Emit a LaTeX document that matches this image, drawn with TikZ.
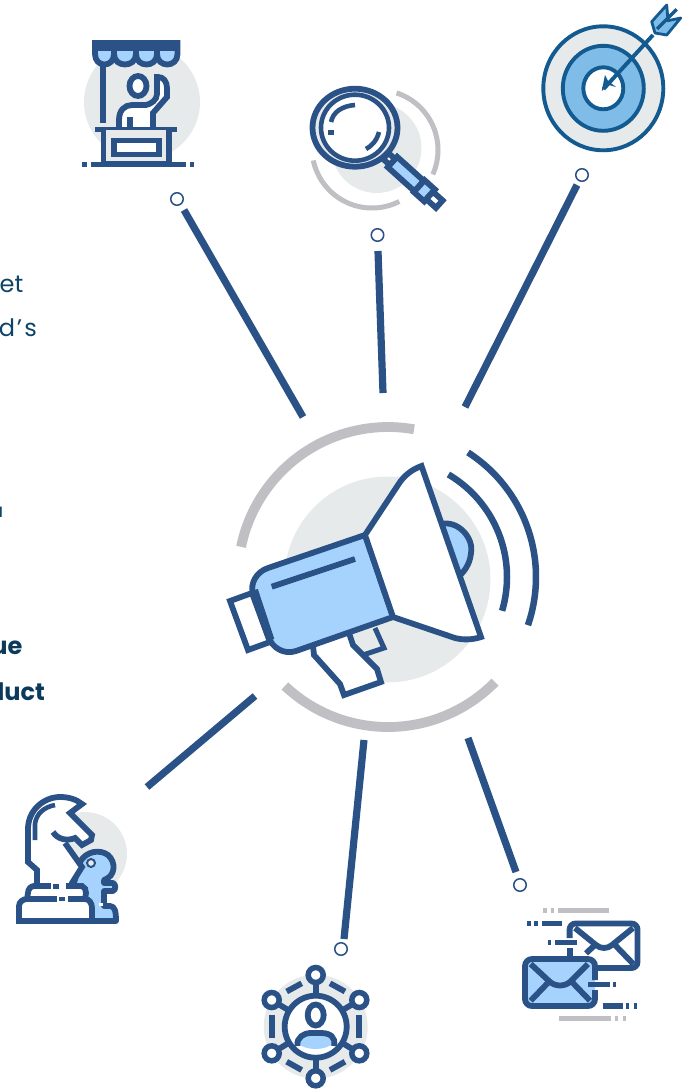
\documentclass[tikz,border=0pt]{standalone}
\usepackage{fontspec}
\setmainfont{Poppins}
\definecolor{navy}{HTML}{2A5286}
\definecolor{teal2}{HTML}{125A8F}
\definecolor{sky}{HTML}{A6D3FD}
\definecolor{sky2}{HTML}{7FBDE8}
\definecolor{mist}{HTML}{E7EAEB}
\definecolor{silver}{HTML}{BFBFC4}
\definecolor{ink}{HTML}{0F4468}
\definecolor{inkb}{HTML}{0B3A5C}
\tikzset{
  ln/.style={draw=navy,line width=5.8pt,line join=miter,miter limit=3},
  thin ln/.style={draw=navy,line width=4.6pt,line join=round},
  conn/.style={draw=navy,line width=7.2pt},
  grayarc/.style={draw=silver,line width=9.8pt},
  grayarcs/.style={draw=silver,line width=5pt},
  graydash/.style={draw=silver,line width=5pt},
  dot/.style={circle,draw=navy,fill=white,line width=1.5pt,minimum size=12.5pt,inner sep=0pt},
  tgt/.style={draw=teal2,line width=3.9pt,line join=round},
  body text/.style={font=\fontsize{24}{28}\selectfont,text=ink,anchor=base east,inner sep=0pt},
  bold text/.style={font=\fontsize{24}{28}\selectfont\bfseries,text=inkb,anchor=base east,inner sep=0pt},
}
\newcommand{\ringarc}[6]{\draw[#1] plot[domain=#5:#6,samples=70,variable=\t] ({#2+#4*cos(\t)},{#3-#4*sin(\t)});}
\begin{document}
\begin{tikzpicture}[x=1pt,y=-1pt]
\useasboundingbox (0,0) rectangle (696,1090);
% ---- clipped text
\node[body text] (t1) at (23.5,292) {et};
\node[body text] (t2) at (37,336) {l\kern2pt d\kern2pt’\kern2pt s};
\node[body text,font=\fontsize{19}{22}\selectfont] (t3) at (3.5,517) {u};
\node[bold text] (t4) at (22.5,654) {ue};
\node[bold text] (t5) at (45,700) {luct};
% ---- connectors
\node[dot] (d1) at (177,199) {};
\node[dot] (d2) at (377.5,235) {};
\node[dot] (d3) at (582,175) {};
\node[dot] (d5) at (341,949) {};
\node[dot] (d6) at (520,885) {};
\coordinate (a1) at (303,417); \coordinate (b1) at (184,210);
\coordinate (a2) at (383,393); \coordinate (b2) at (378,251);
\coordinate (a3) at (465,407); \coordinate (b3) at (577,185);
\coordinate (a4) at (255,696); \coordinate (b4) at (147,787);
\coordinate (a5) at (364,740); \coordinate (b5) at (344,939);
\coordinate (a6) at (468,738); \coordinate (b6) at (516,872);
\foreach \i in {1,...,6}{\draw[conn] (a\i) -- (b\i);}
% ---- megaphone
\fill[mist] (387.5,579.5) circle (103);
\ringarc{grayarc}{388}{577}{150}{80}{168.4}
\ringarc{grayarc}{388}{577}{150}{226.6}{315.5}
\ringarc{draw=navy,line width=6.5pt}{388}{577}{148}{-19}{57.3}
\ringarc{draw=navy,line width=6.5pt}{388}{577}{119}{-16.5}{59.5}
% dome
\draw[ln,fill=sky] (441,524) .. controls (458,520) and (474,538) .. (471,553) .. controls (470,565) and (463,573) .. (458,577) -- cycle;
% trigger
\draw[draw=navy,line width=5pt,line join=miter] (352,645) -- (363,655) -- (384,648) -- (375,628);
% handle
\draw[ln,fill=white] (313,646) -- (314,655) -- (340,684) -- (344,695) -- (381,682) -- (377,669) -- (353,645) -- (349,633);
% rear cap
\draw[ln,fill=white] (230,601) -- (252,593) -- (270,642) -- (248,650) -- cycle;
% body
\draw[ln,fill=sky] (365,535) -- (268,568) .. controls (256,572) and (250,584) .. (253,593) -- (268,636) .. controls (272,648) and (284,655) .. (296,651) -- (393,617) -- cycle;
\draw[draw=navy,line width=7pt] (254.5,590) -- (271,640);
\draw[ln] (271.7,586.7) -- (355,559);
% bell
\draw[ln,fill=white] (365,535) -- (398,485) .. controls (404,475) and (413,469) .. (421.5,466) -- (481,637) .. controls (472,640) and (463,640) .. (455,638) -- (393,617) -- cycle;
% ---- market stall
\fill[mist] (142,102) circle (58);
\draw[ln] (103,62) -- (103,123);
\draw[ln,fill=sky] (95,43) -- (177.5,43) -- (177.5,54) .. controls (177.5,68) and (157,68) .. (157,54) .. controls (157,68) and (136,68) .. (136,54) .. controls (136,68) and (114,68) .. (114,54) .. controls (114,68) and (95,68) .. (95,54) -- cycle;
\fill[navy] (92.5,40.5) rectangle (180,50.5);
\foreach \x in {114,136,157}{\draw[ln] (\x,50) -- (\x,55);}
\draw[ln,fill=white] (138,86) ellipse (8.5 and 10);
\draw[ln,fill=white,line cap=butt] (119,128) -- (119,120) .. controls (119,110) and (125,105) .. (132,105) -- (146,105) .. controls (151,104) and (157,100) .. (157,94) -- (157,77) -- (158,77) .. controls (163,77) and (167,81) .. (167,88) -- (167,97) -- (153,113) -- (153,128);
\draw[ln] (130,117) -- (130,128);
\draw[ln] (95,129.5) -- (177,129.5);
\draw[ln,fill=mist] (103.5,130) -- (103.5,164) -- (169,164) -- (169,130);
\draw[ln,fill=white] (114,140.5) rectangle (159,154.5);
\draw[ln] (90.7,164.5) -- (185.7,164.5);
\draw[ln] (82.3,164.5) -- (86.7,164.5);
\draw[ln] (190,164.5) -- (194.3,164.5);
% ---- magnifier
\fill[mist] (376.5,148) circle (45);
\ringarc{grayarcs}{378}{150}{60}{-24}{72}
\ringarc{grayarcs}{372}{148}{60}{192}{297}
\begin{scope}[shift={(388,158)},rotate=-42]
  \draw[ln,fill=white] (-3,-4) rectangle (6,4);
  \draw[ln,fill=sky] (6,-7) rectangle (42,7);
  \draw[ln,fill=sky] (42,-8) rectangle (56,8);
  \draw[ln,fill=white] (56,-5) rectangle (69,5);
\end{scope}
\draw[ln,fill=mist] (355,127.7) ellipse (42.5 and 39);
\draw[thin ln,fill=white] (355,127.7) ellipse (34 and 33);
\draw[thin ln] (331,122) .. controls (333,112) and (342,106) .. (355,105);
\draw[ln] (330.7,129.5) -- (330.7,134.5);
\draw[thin ln] (366,149) .. controls (372,146) and (377,140) .. (379,132);
% ---- target
\draw[tgt,fill=mist] (603.3,88.3) ellipse (60 and 62);
\draw[tgt,fill=sky2] (603.3,88.3) ellipse (40.5 and 42.5);
\draw[tgt,fill=white] (603.3,88.3) ellipse (20 and 21);
\draw[tgt] (603.5,89) -- (653,35);
\fill[teal2] (601.7,91) -- (605,75) -- (608,81) -- (616,87) -- (609,85) -- cycle;
\draw[draw=teal2,line width=2.8pt,line join=round,fill=sky2] (666.7,5) -- (651.7,21.7) -- (655,33) -- (666.7,35) -- (680.7,18) -- (668,20.7) -- cycle;
\draw[draw=teal2,line width=3.2pt] (676.7,9.3) -- (657,29);
% ---- chess
\fill[mist] (85,854) circle (42);
\draw[ln,line join=round,fill=sky] (80,862) .. controls (86,851) and (100,849) .. (108,855) .. controls (116,862) and (116,876) .. (104,880) -- (104,883) -- (113,883) .. controls (116,884) and (116,890) .. (113,891) -- (104,891) -- (104,906) -- (110,906) .. controls (115,906) and (116,912) .. (116,921) -- (85,921) -- (72,890) -- cycle;
\fill[white] (99,903) rectangle (103,906);
\draw[draw=navy,line width=2pt,fill=mist] (91,863) circle (4);
\fill[white] (37,888) -- (37,870) -- (28,862) -- (28,829) .. controls (28,810) and (44,797) .. (60,797) .. controls (68,797) and (76,799) .. (82,804) -- (70,813) -- (92,835) -- (91,840) -- (82,845) -- (75,838) -- (65,843) -- (82,867) -- (72,883) -- (72,888) -- cycle;
\draw[ln] (37,888) -- (37,870) -- (28,862) -- (28,829) .. controls (28,810) and (44,797) .. (60,797) .. controls (68,797) and (76,799) .. (82,804) -- (70,813) -- (92,835) -- (91,840) -- (82,845) -- (75,838) .. controls (68,841) and (58,840) .. (53,832);
\draw[ln] (65,843) -- (82,867) -- (72,883) -- (72,888);
\draw[thin ln] (35,840) -- (35,824) .. controls (36,814) and (44,807) .. (55,805);
\draw[ln,fill=white] (19,921) -- (19,906) .. controls (19,902) and (23,899) .. (27,899) -- (28,893) .. controls (28,889) and (31,886) .. (34,886) -- (82,886) .. controls (85,887) and (86,890) .. (86,893) -- (85,899) .. controls (89,899) and (92,903) .. (92,908) -- (92,921) -- cycle;
\draw[draw=white,line width=7pt] (51,886) -- (66,886);
\draw[ln] (56,884) -- (56,888.5);
\draw[draw=white,line width=7pt] (58,899) -- (67,899);
\draw[ln] (28,899) -- (57,899);
\draw[ln] (62.3,897) -- (62.3,901);
\draw[ln] (68,899) -- (84,899);
% ---- network
\fill[mist] (315.7,1026.7) circle (52);
\draw[ln] (315.7,975) -- (315.7,1078);
\draw[ln] (271.7,1000) -- (359.3,1053.3);
\draw[ln] (359.3,1000) -- (271.7,1053.3);
\node[circle,draw=navy,fill=white,line width=5.8pt,minimum size=62pt,inner sep=0pt] (hub) at (315.7,1026.7) {};
\foreach \n/\p in {s1/{315.7,975},s2/{315.7,1078.3},s3/{271.7,1000},s4/{359.3,1000},s5/{271.7,1053.3},s6/{359.3,1053.3}}{
  \node[circle,draw=navy,fill=white,line width=5.5pt,minimum size=15pt,inner sep=0pt] (\n) at (\p) {};
}
\draw[ln] (286.7,991.5) -- (301.7,983.3);
\draw[ln] (330,983.3) -- (345,991.5);
\draw[ln] (272.3,1015) -- (272.3,1038.3);
\draw[ln] (359,1015) -- (359,1038.3);
\draw[ln] (286.7,1061.7) -- (301.7,1070);
\draw[ln] (330,1070) -- (345,1061.7);
\draw[ln] (315.7,1015) ellipse (8 and 10.5);
\fill[sky] (297.5,1043) .. controls (297,1036) and (305,1033) .. (310,1033) -- (321,1033) .. controls (330,1033) and (335,1038) .. (334,1043) .. controls (325,1051) and (306,1051) .. (297.5,1043) -- cycle;
\draw[ln] (297.5,1046) .. controls (296,1037) and (305,1033) .. (310,1033) -- (321,1033) .. controls (330,1033) and (336,1037) .. (334,1046);
% ---- envelopes
\fill[white,rounded corners=6pt] (571,923.5) rectangle (637.5,968);
\draw[ln,rounded corners=6pt] (569.6,938) -- (569.6,923.5) -- (637.5,923.5) -- (637.5,968) -- (597,968);
\draw[ln] (569.6,948) -- (569.6,957);
\draw[ln] (575,928) -- (596,945) .. controls (601,949) and (607,949) .. (612,945) -- (633,928);
\draw[ln] (586,953.3) -- (595,945);
\draw[ln] (615,945) -- (633.3,964);
\fill[sky,rounded corners=7pt] (525,959) rectangle (595,1006);
\draw[ln,rounded corners=7pt] (595,980) -- (595,959) -- (525,959) -- (525,1006) -- (595,1006) -- (595,990);
\draw[ln] (530.7,964) -- (549,981) .. controls (555,987) and (565,987) .. (571,981) -- (588,964);
\draw[ln] (530.7,1000.7) -- (549,981.7);
\draw[ln] (571.7,981.7) -- (590,1000.7);
\foreach \a/\b/\y in {527.3/530.7/923.3,534.3/537.7/923.3,541.7/562/923.3,547.7/551/942.7,555/576.7/942.7,588/610/984.3,613/615.5/984.3,602.7/622.7/1006,626.3/629.3/1006,634/637/1006}{
  \draw[draw=navy,line width=5.5pt] (\a,\y) -- (\b,\y);
}
\foreach \a/\b/\y in {543.3/546.7/910.7,550.7/554/910.7,557.7/609.3/910.7,559.3/611/1018.7,615/618.3/1018.7,622.7/626/1018.7}{
  \draw[graydash] (\a,\y) -- (\b,\y);
}
\end{tikzpicture}
\end{document}
